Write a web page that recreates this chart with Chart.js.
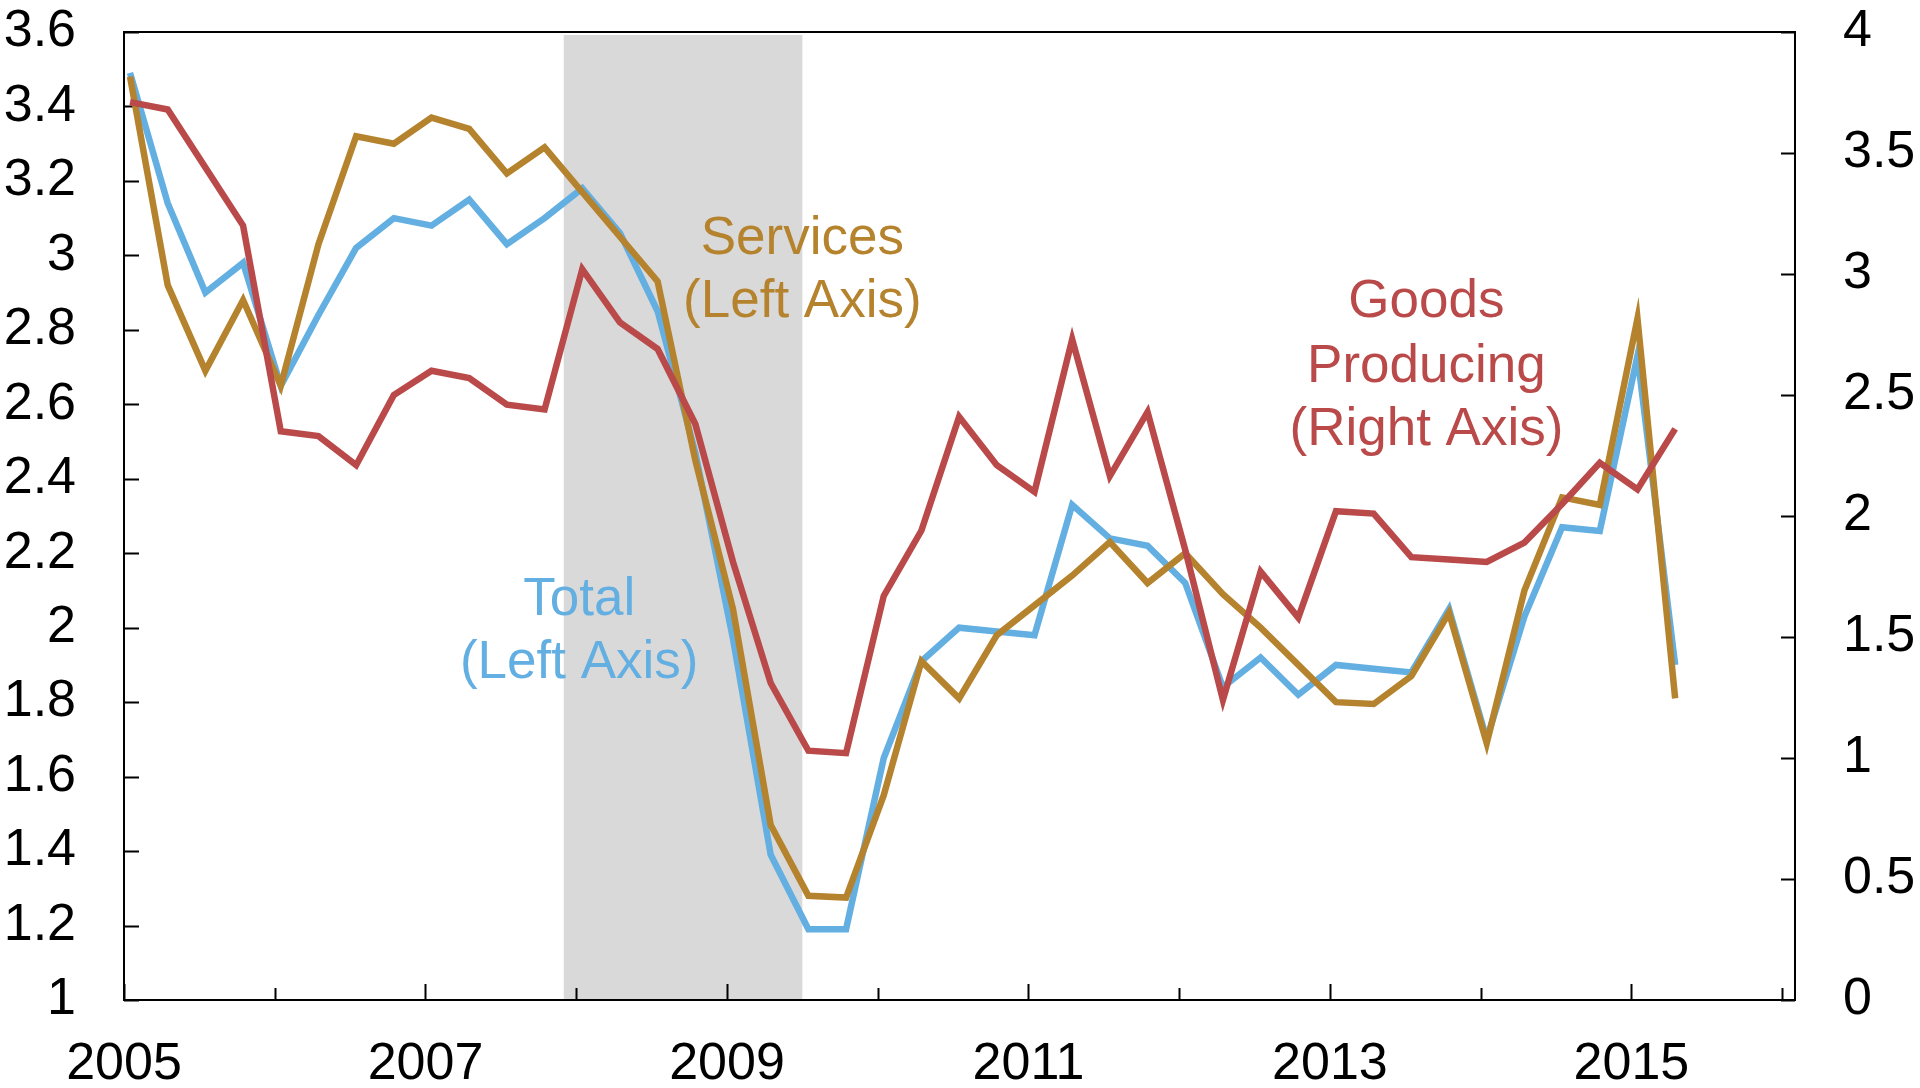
<!DOCTYPE html>
<html>
<head>
<meta charset="utf-8">
<script src="https://cdn.jsdelivr.net/npm/chart.js@4.4.1/dist/chart.umd.min.js"></script>
<style>
html,body{margin:0;padding:0;background:#ffffff;}
canvas{display:block;}
</style>
</head>
<body>
<canvas id="c" width="1920" height="1088"></canvas>
<script>
// ---- data ----
const quarters = ['2005Q1','2005Q2','2005Q3','2005Q4','2006Q1','2006Q2','2006Q3','2006Q4',
  '2007Q1','2007Q2','2007Q3','2007Q4','2008Q1','2008Q2','2008Q3','2008Q4',
  '2009Q1','2009Q2','2009Q3','2009Q4','2010Q1','2010Q2','2010Q3','2010Q4',
  '2011Q1','2011Q2','2011Q3','2011Q4','2012Q1','2012Q2','2012Q3','2012Q4',
  '2013Q1','2013Q2','2013Q3','2013Q4','2014Q1','2014Q2','2014Q3','2014Q4',
  '2015Q1','2015Q2'];
const total = [3.49, 3.14, 2.90, 2.98, 2.65, 2.84, 3.02, 3.10, 3.08, 3.15, 3.03, 3.10, 3.18, 3.06, 2.85, 2.47,
  1.97, 1.39, 1.19, 1.19, 1.65, 1.91, 2.00, 1.99, 1.98, 2.33, 2.24, 2.22, 2.12, 1.84, 1.92, 1.82,
  1.90, 1.89, 1.88, 2.05, 1.70, 2.03, 2.27, 2.26, 2.73, 1.90];
const services = [3.48, 2.92, 2.69, 2.88, 2.65, 3.03, 3.32, 3.30, 3.37, 3.34, 3.22, 3.29, 3.17, 3.05, 2.93, 2.45,
  2.05, 1.47, 1.28, 1.275, 1.55, 1.91, 1.81, 1.98, 2.06, 2.14, 2.23, 2.12, 2.20, 2.09, 2.00, 1.90,
  1.80, 1.795, 1.87, 2.04, 1.69, 2.10, 2.35, 2.33, 2.83, 1.81];
const goods = [3.71, 3.68, 3.44, 3.20, 2.35, 2.33, 2.21, 2.50, 2.60, 2.57, 2.46, 2.44, 3.02, 2.80, 2.69, 2.38,
  1.81, 1.31, 1.03, 1.02, 1.67, 1.94, 2.41, 2.21, 2.10, 2.73, 2.165, 2.43, 1.86, 1.24, 1.77, 1.58,
  2.02, 2.01, 1.83, 1.82, 1.81, 1.89, 2.05, 2.22, 2.11, 2.36];
const leftTicks = [1, 1.2, 1.4, 1.6, 1.8, 2, 2.2, 2.4, 2.6, 2.8, 3, 3.2, 3.4, 3.6];
const leftTickLabels = ['1','1.2','1.4','1.6','1.8','2','2.2','2.4','2.6','2.8','3','3.2','3.4','3.6'];
const rightTicks = [0, 0.5, 1, 1.5, 2, 2.5, 3, 3.5, 4];
const rightTickLabels = ['0','0.5','1','1.5','2','2.5','3','3.5','4'];
const xTickYears = [2005, 2006, 2007, 2008, 2009, 2010, 2011, 2012, 2013, 2014, 2015, 2016];
const xTickLabels = ['2005','','2007','','2009','','2011','','2013','','2015',''];
const recession = [2007.917, 2009.5];

const BLUE = '#63AFE1';
const GOLD = '#B5832D';
const RED = '#BA4949';
const FONT = '"Liberation Sans", Arial, sans-serif';

const notes = [
  { lines: ['Total', '(Left Axis)'], x: 2008.02, y: [2.034, 1.865], color: BLUE },
  { lines: ['Services', '(Left Axis)'], x: 2009.5, y: [3.005, 2.835], color: GOLD },
  { lines: ['Goods', 'Producing', '(Right Axis)'], x: 2013.64, y: [2.835, 2.661, 2.491], color: RED }
];

function qToYear(q) {
  const yr = parseInt(q.slice(0, 4), 10);
  const n = parseInt(q.slice(5), 10);
  return yr + (n - 1) / 4 + 0.04;
}
function pts(arr) { return arr.map((v, i) => ({ x: qToYear(quarters[i]), y: v })); }

const decor = {
  id: 'decor',
  beforeDatasetsDraw(chart) {
    const { ctx, chartArea: a, scales } = chart;
    const x = scales.x, y = scales.y, y2 = scales.y2;
    ctx.save();
    // recession shading
    const r0 = x.getPixelForValue(recession[0]);
    const r1 = x.getPixelForValue(recession[1]);
    ctx.fillStyle = '#D9D9D9';
    ctx.fillRect(r0, a.top + 3, r1 - r0, a.bottom - a.top - 3);
    // frame
    ctx.strokeStyle = '#000';
    ctx.lineWidth = 2;
    ctx.strokeRect(a.left, a.top, a.right - a.left, a.bottom - a.top);
    // tick marks (inside)
    ctx.beginPath();
    leftTicks.forEach(v => {
      const p = Math.round(y.getPixelForValue(v)) + 0.5;
      ctx.moveTo(a.left, p); ctx.lineTo(a.left + 15, p);
    });
    rightTicks.forEach(v => {
      const p = Math.round(y2.getPixelForValue(v)) + 0.5;
      ctx.moveTo(a.right, p); ctx.lineTo(a.right - 14, p);
    });
    xTickYears.forEach((v, i) => {
      const p = Math.round(x.getPixelForValue(v)) + 0.5;
      const len = xTickLabels[i] ? 16 : 12;
      ctx.moveTo(p, a.bottom); ctx.lineTo(p, a.bottom - len);
    });
    ctx.stroke();
    ctx.restore();
  },
  afterDatasetsDraw(chart) {
    const { ctx, scales } = chart;
    const x = scales.x, y = scales.y;
    ctx.save();
    ctx.font = '53px ' + FONT;
    ctx.textAlign = 'center';
    ctx.textBaseline = 'alphabetic';
    notes.forEach(n => {
      ctx.fillStyle = n.color;
      n.lines.forEach((t, i) => {
        ctx.fillText(t, x.getPixelForValue(n.x), y.getPixelForValue(n.y[i]));
      });
    });
    ctx.restore();
  }
};

const tickFont = { family: FONT, size: 52 };
function zeroPad(s) { s.paddingTop = 0; s.paddingBottom = 0; s.paddingLeft = 0; s.paddingRight = 0; }

new Chart(document.getElementById('c'), {
  type: 'line',
  data: {
    datasets: [
      { label: 'Goods Producing (Right Axis)', data: pts(goods), yAxisID: 'y2', borderColor: RED, order: 1 },
      { label: 'Services (Left Axis)', data: pts(services), yAxisID: 'y', borderColor: GOLD, order: 2 },
      { label: 'Total (Left Axis)', data: pts(total), yAxisID: 'y', borderColor: BLUE, order: 3 }
    ]
  },
  options: {
    responsive: false,
    animation: false,
    devicePixelRatio: 1,
    layout: { padding: { top: 32, left: 0, right: 0, bottom: 0 } },
    elements: {
      point: { radius: 0, hoverRadius: 0 },
      line: { borderWidth: 6.5, tension: 0, borderJoinStyle: 'miter', borderCapStyle: 'butt', fill: false }
    },
    plugins: { legend: { display: false }, tooltip: { enabled: false } },
    scales: {
      x: {
        type: 'linear', min: 2005, max: 2016.085, bounds: 'data',
        grid: { display: false, drawTicks: false },
        border: { display: false },
        afterBuildTicks: s => { s.ticks = xTickYears.map(v => ({ value: v })); },
        afterFit: s => { s.height = 88; zeroPad(s); },
        ticks: {
          autoSkip: false, maxRotation: 0, padding: 33, color: '#000', font: tickFont,
          callback: (v, i) => xTickLabels[i]
        }
      },
      y: {
        type: 'linear', position: 'left', min: 1, max: 3.6, bounds: 'data',
        grid: { display: false, drawTicks: false },
        border: { display: false },
        afterBuildTicks: s => { s.ticks = leftTicks.map(v => ({ value: v })); },
        afterFit: s => { s.width = 124; zeroPad(s); },
        ticks: { padding: 48, color: '#000', font: tickFont, callback: (v, i) => leftTickLabels[i] }
      },
      y2: {
        type: 'linear', position: 'right', min: 0, max: 4, bounds: 'data',
        grid: { display: false, drawTicks: false },
        border: { display: false },
        afterBuildTicks: s => { s.ticks = rightTicks.map(v => ({ value: v })); },
        afterFit: s => { s.width = 125; zeroPad(s); },
        ticks: { padding: 48, color: '#000', font: tickFont, callback: (v, i) => rightTickLabels[i] }
      }
    }
  },
  plugins: [decor]
});
</script>
</body>
</html>
